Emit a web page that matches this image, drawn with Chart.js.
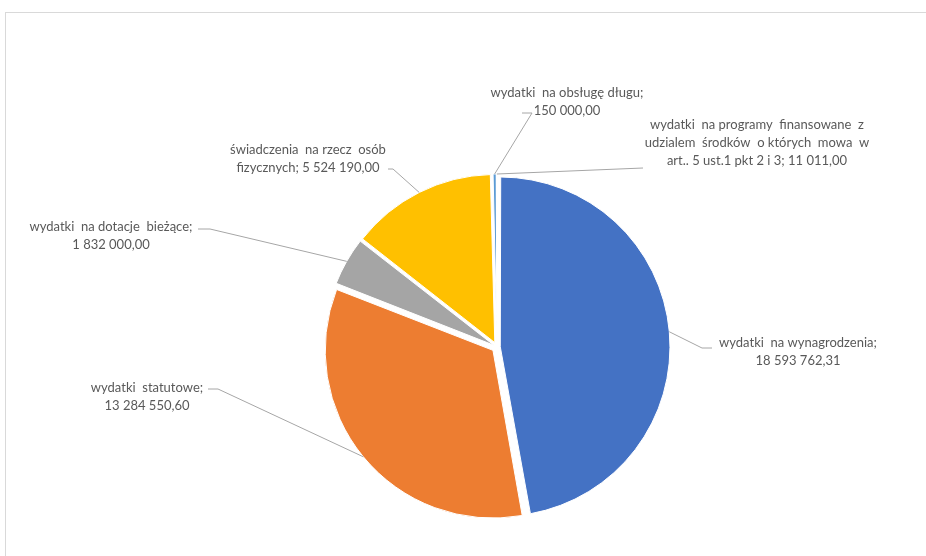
<!DOCTYPE html>
<html>
<head>
<meta charset="utf-8">
<script src="https://cdn.jsdelivr.net/npm/chart.js@4"></script>
<style>
  html, body { margin: 0; padding: 0; background: #fff; overflow: hidden; }
  #wrap { position: relative; width: 926px; height: 556px; }
  #frame { position: absolute; left: 5px; top: 12px; width: 960px; height: 600px; border: 1px solid #d9d9d9; }
  #chart { position: absolute; left: 0; top: 0; }
</style>
</head>
<body>
<div id="wrap">
  <div id="frame"></div>
  <canvas id="chart" width="926" height="556"></canvas>
</div>
<script>
// categories (\n = line break in the callout)
const categories = [
  'wydatki  na wynagrodzenia;',
  'wydatki  statutowe;',
  'wydatki  na dotacje  bieżące;',
  'świadczenia  na rzecz  osób\nfizycznych;',
  'wydatki  na obsługę długu;',
  'wydatki  na programy  finansowane  z\nudzialem  środków  o których  mowa  w\nart.. 5 ust.1 pkt 2 i 3;',
];
const values = [18593762.31, 13284550.60, 1832000.00, 5524190.00, 150000.00, 11011.00];
const colors = ['#4472C4', '#ED7D31', '#A5A5A5', '#FFC000', '#5B9BD5', '#70AD47'];

// callout layout: text centre x, first line y, value on its own line?, leader elbow / end
const callouts = [
  { cx: 798, y: 343, newLine: true,  elbow: [702, 348], end: [712, 348] },
  { cx: 147, y: 388, newLine: true,  elbow: [218, 389], end: [208, 389] },
  { cx: 111, y: 227, newLine: true,  elbow: [210, 229], end: [198, 229] },
  { cx: 308, y: 150, newLine: false, elbow: [393, 169], end: [388, 169] },
  { cx: 567, y: 93,  newLine: true,  elbow: [532, 113], end: [522, 113] },
  { cx: 757, y: 125, newLine: false, elbow: [643, 168], end: [643, 168] },
];

const EXPLODE = 6;
const total = values.reduce((a, b) => a + b, 0);

function fmtPl(n) {
  const [i, d] = n.toFixed(2).split('.');
  return i.replace(/\B(?=(\d{3})+(?!\d))/g, ' ') + ',' + d;
}

// chart.js shifts arcs by offset/4 * (1 + fix); invert so every slice moves EXPLODE px
function sliceOffset(v) {
  const c = v / total * Math.PI * 2;
  const fix = 1 - Math.sin(Math.min(Math.PI, c));
  return 4 * EXPLODE / (1 + fix);
}

function shift(el) {
  const c = el.endAngle - el.startAngle;
  const fix = 1 - Math.sin(Math.min(Math.PI, c));
  return (el.options.offset || 0) / 4 * (1 + fix);
}

const calloutPlugin = {
  id: 'callouts',
  afterDatasetsDraw(chart) {
    const ctx = chart.ctx;
    const meta = chart.getDatasetMeta(0);
    ctx.save();
    meta.data.forEach((el, i) => {
      const co = callouts[i];
      const h = (el.startAngle + el.endAngle) / 2;
      const r = el.outerRadius + shift(el);
      const sx = el.x + Math.cos(h) * r;
      const sy = el.y + Math.sin(h) * r;
      ctx.strokeStyle = '#a6a6a6';
      ctx.lineWidth = 1;
      ctx.beginPath();
      ctx.moveTo(sx, sy);
      ctx.lineTo(co.elbow[0], co.elbow[1]);
      ctx.lineTo(co.end[0], co.end[1]);
      ctx.stroke();

      const lines = categories[i].split('\n');
      const v = fmtPl(values[i]);
      if (co.newLine) lines.push(v);
      else lines[lines.length - 1] += ' ' + v;
      ctx.fillStyle = '#595959';
      ctx.font = '13px Lato, "Open Sans", sans-serif';
      ctx.textAlign = 'center';
      ctx.textBaseline = 'middle';
      lines.forEach((t, k) => ctx.fillText(t, co.cx, co.y + k * 18));
    });
    ctx.restore();
  },
};

new Chart(document.getElementById('chart'), {
  type: 'pie',
  data: {
    labels: categories,
    datasets: [{
      data: values,
      backgroundColor: colors,
      borderColor: '#ffffff',
      borderWidth: 1,
      radius: 167,
      offset: values.map(sliceOffset),
    }],
  },
  options: {
    responsive: false,
    animation: false,
    devicePixelRatio: 1,
    layout: { padding: { left: 68, top: 138 } },
    plugins: { legend: { display: false }, tooltip: { enabled: false } },
  },
  plugins: [calloutPlugin],
});
</script>
</body>
</html>
